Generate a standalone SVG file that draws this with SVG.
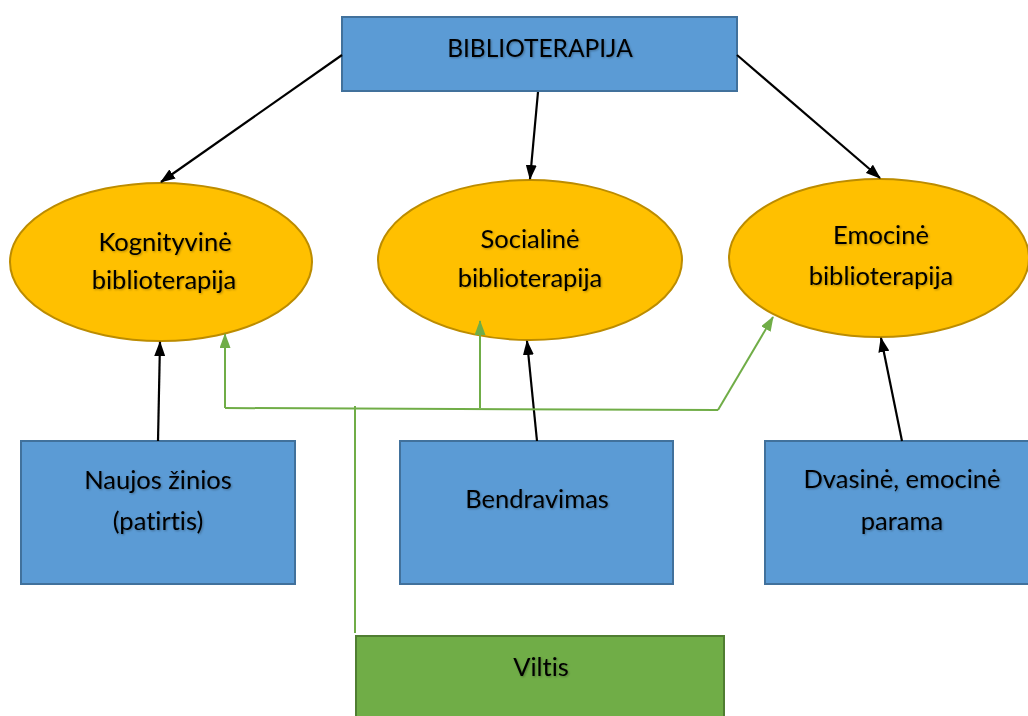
<svg xmlns="http://www.w3.org/2000/svg" width="1028" height="716" viewBox="0 0 1028 716">
  <style>
    .box { fill: #5B9BD5; stroke: #41719C; stroke-width: 2; }
    .oval { fill: #FFC000; stroke: #BC8C00; stroke-width: 2; }
    .hope { fill: #70AD47; stroke: #507E32; stroke-width: 2; }
    .lbl { font-family: Lato, "Open Sans", sans-serif; font-size: 25.5px; fill: #000; text-anchor: middle; font-variant-ligatures: none; filter: url(#soft); }
    .ttl { font-size: 24.5px; }
    .blk { stroke: #000; stroke-width: 2.2; fill: none; marker-end: url(#ahB); }
    .grn { stroke: #70AD47; stroke-width: 2; fill: none; }
    .grnA { stroke: #70AD47; stroke-width: 2; fill: none; marker-end: url(#ahG); }
  </style>
  <defs>
    <marker id="ahB" viewBox="0 0 15 11" refX="14" refY="5.5" markerWidth="15" markerHeight="11" markerUnits="userSpaceOnUse" orient="auto">
      <path d="M0,0 L15,5.5 L0,11 z" fill="#000"/>
    </marker>
    <marker id="ahG" viewBox="0 0 15 11" refX="14" refY="5.5" markerWidth="15" markerHeight="11" markerUnits="userSpaceOnUse" orient="auto">
      <path d="M0,0 L15,5.5 L0,11 z" fill="#70AD47"/>
    </marker>
    <filter id="soft" x="-10%" y="-20%" width="120%" height="150%">
      <feDropShadow dx="1" dy="1" stdDeviation="0.8" flood-color="#000" flood-opacity="0.3"/>
    </filter>
  </defs>

  <rect width="1028" height="716" fill="#fff"/>

  <g id="biblioterapija">
    <rect class="box" x="342" y="17" width="395" height="74"/>
    <text class="lbl ttl" x="540" y="57">BIBLIOTERAPIJA</text>
  </g>

  <g id="kognityvine">
    <ellipse class="oval" cx="161" cy="262" rx="151" ry="79"/>
    <text class="lbl" x="165" y="251">Kognityvinė</text>
    <text class="lbl" x="164" y="289">biblioterapija</text>
  </g>

  <g id="socialine">
    <ellipse class="oval" cx="530" cy="260" rx="152" ry="80"/>
    <text class="lbl" x="530" y="248">Socialinė</text>
    <text class="lbl" x="530" y="287">biblioterapija</text>
  </g>

  <g id="emocine">
    <ellipse class="oval" cx="879" cy="258" rx="150" ry="79"/>
    <text class="lbl" x="881" y="244">Emocinė</text>
    <text class="lbl" x="881" y="285">biblioterapija</text>
  </g>

  <g id="naujos-zinios">
    <rect class="box" x="21" y="441" width="274" height="143"/>
    <text class="lbl" x="158" y="489">Naujos žinios</text>
    <text class="lbl" x="158" y="530">(patirtis)</text>
  </g>

  <g id="bendravimas">
    <rect class="box" x="400" y="441" width="273" height="143"/>
    <text class="lbl" x="537" y="508">Bendravimas</text>
  </g>

  <g id="dvasine-parama">
    <rect class="box" x="765" y="441" width="270" height="143"/>
    <text class="lbl" x="902" y="488">Dvasinė, emocinė</text>
    <text class="lbl" x="902" y="530">parama</text>
  </g>

  <g id="viltis">
    <rect class="hope" x="356" y="636" width="368" height="90"/>
    <text class="lbl" x="541" y="676">Viltis</text>
  </g>

  <!-- connectors sit above the shapes so arrow tips stay visible -->
  <g id="connectors">
    <line class="blk" x1="342" y1="55" x2="161" y2="182"/>
    <line class="blk" x1="538" y1="92" x2="530" y2="179"/>
    <line class="blk" x1="737" y1="55" x2="880" y2="178"/>
    <line class="blk" x1="158" y1="441" x2="160" y2="342"/>
    <line class="blk" x1="537" y1="441" x2="527" y2="341"/>
    <line class="blk" x1="902" y1="441" x2="881" y2="338"/>
    <polyline class="grn" points="355,633 355,406"/>
    <polyline class="grnA" points="225,408 225,334"/>
    <polyline class="grn" points="225,408 718,410"/>
    <polyline class="grnA" points="480,408 480,321"/>
    <polyline class="grnA" points="718,410 773,317"/>
  </g>
</svg>
